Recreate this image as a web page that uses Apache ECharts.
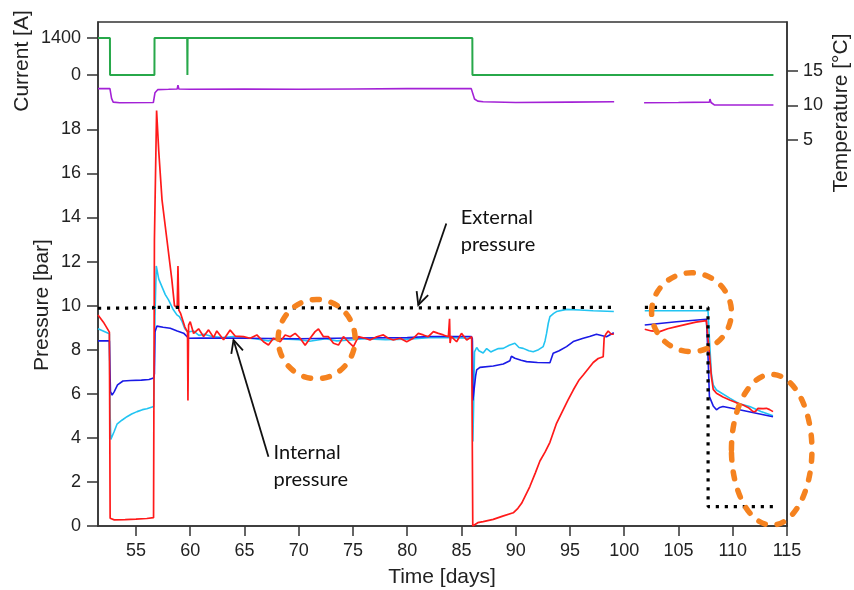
<!DOCTYPE html>
<html><head><meta charset="utf-8">
<script src="https://cdn.jsdelivr.net/npm/echarts@6/dist/echarts.min.js"></script>
<style>html,body{margin:0;padding:0;background:#fff}#c{width:854px;height:590px}</style>
</head><body><div id="c"></div>
<script>
// ---------- data ----------
const xTicks = [55, 60, 65, 70, 75, 80, 85, 90, 95, 100, 105, 110, 115];
const pressureTicks = [0, 2, 4, 6, 8, 10, 12, 14, 16, 18];
const currentTicks = [0, 1400];
const temperatureTicks = [5, 10, 15];

const redPressure = [
  [51.5, 9.57], [52.0, 9.25], [52.55, 8.8], [52.62, 0.35], [53.0, 0.28], [54.0, 0.29], [55.0, 0.31], [56.0, 0.34],
  [56.62, 0.38], [56.7, 13.0], [56.9, 18.85], [57.1, 17.0], [57.4, 14.8], [57.85, 13.0], [58.3, 11.2], [58.55, 10.0],
  [58.8, 9.9], [58.87, 11.8], [58.95, 9.8], [59.1, 9.66], [59.5, 9.04], [59.75, 8.8], [59.79, 5.7], [59.85, 9.12],
  [60.0, 9.27], [60.31, 8.74], [60.77, 8.95], [61.23, 8.6], [61.69, 8.9], [62.15, 8.55], [62.45, 8.85], [63.07, 8.45],
  [63.68, 8.89], [64.14, 8.62], [64.91, 8.59], [65.52, 8.52], [66.14, 8.67], [66.75, 8.36], [67.21, 8.21], [67.67, 8.52],
  [68.29, 8.36], [68.75, 8.67], [69.21, 8.59], [69.67, 8.74], [70.13, 8.52], [70.59, 8.2], [71.05, 8.52], [71.51, 8.82],
  [71.82, 8.94], [72.28, 8.59], [72.74, 8.59], [73.2, 8.29], [73.66, 8.21], [74.12, 8.59], [74.58, 8.36], [75.04, 8.14],
  [75.5, 8.59], [76.11, 8.52], [76.57, 8.44], [77.19, 8.59], [77.8, 8.67], [78.26, 8.52], [78.72, 8.44], [79.34, 8.52],
  [79.95, 8.36], [80.56, 8.52], [81.02, 8.74], [81.48, 8.67], [81.94, 8.59], [82.41, 8.82], [82.87, 8.74], [83.33, 8.67],
  [83.79, 8.59], [83.85, 8.6], [83.9, 9.4], [83.95, 8.3], [84.05, 8.6], [84.55, 8.36], [85.0, 8.74], [85.48, 8.44],
  [85.94, 8.59], [86.02, 8.55], [86.04, 0.0], [86.09, 0.05], [86.5, 0.15], [87.0, 0.2], [87.93, 0.3], [88.8, 0.45],
  [89.77, 0.6], [90.2, 0.8], [90.54, 1.03], [91.3, 1.79], [91.8, 2.4], [92.23, 2.95], [92.7, 3.35], [93.15, 3.8],
  [93.76, 4.66], [94.37, 5.27], [94.8, 5.7], [95.3, 6.17], [95.8, 6.6], [96.22, 6.85], [96.7, 7.15], [97.14, 7.42],
  [97.6, 7.6], [98.06, 7.68], [98.15, 8.55], [98.3, 8.7], [98.52, 8.85], [98.8, 8.7], [99.04, 8.7], [100.5, null],
  [101.89, 8.93], [102.5, 8.85], [103.27, 8.82], [104.0, 8.95], [104.81, 9.05], [105.7, 9.15], [106.6, 9.25], [107.57, 9.32],
  [107.72, 9.3], [107.82, 7.99], [108.03, 6.78], [108.2, 6.2], [108.5, 6.02], [109.1, 5.85], [109.72, 5.72], [110.3, 5.6],
  [110.95, 5.49], [111.5, 5.35], [111.87, 5.19], [112.1, 5.2], [112.33, 5.34], [112.8, 5.33], [113.1, 5.34], [113.4, 5.28],
  [113.71, 5.19]
];

const cyanPressure = [
  [51.5, 8.95], [52.55, 8.72], [52.62, 5.0], [52.68, 3.93], [53.0, 4.3], [53.25, 4.62], [53.7, 4.8], [54.17, 4.96],
  [54.6, 5.08], [55.1, 5.19], [55.6, 5.28], [56.0, 5.32], [56.63, 5.42], [56.7, 5.5], [56.75, 9.5], [56.87, 11.8],
  [57.1, 11.2], [57.39, 10.86], [57.7, 10.5], [58.0, 10.26], [58.4, 9.85], [58.77, 9.58], [59.0, 9.5], [59.23, 9.3],
  [59.5, 8.95], [59.8, 8.8], [60.3, 8.85], [60.8, 8.65], [61.3, 8.7], [62.0, 8.6], [63.0, 8.55], [64.0, 8.6],
  [66.0, 8.5], [67.2, 8.4], [68.0, 8.5], [70.0, 8.45], [71.0, 8.38], [72.5, 8.5], [73.5, 8.4], [75.0, 8.45],
  [76.0, 8.5], [78.0, 8.45], [80.0, 8.48], [82.0, 8.55], [84.0, 8.55], [85.9, 8.52], [86.0, 8.4], [86.05, 3.83],
  [86.12, 5.5], [86.2, 7.9], [86.4, 8.1], [86.6, 7.95], [87.0, 7.85], [87.32, 8.05], [87.7, 7.9], [87.93, 7.95],
  [88.4, 8.05], [88.85, 8.06], [89.4, 8.2], [89.92, 8.29], [90.3, 8.1], [90.69, 8.06], [91.2, 7.95], [91.61, 7.91],
  [92.1, 8.0], [92.53, 8.14], [92.7, 8.4], [92.84, 8.74], [93.0, 9.2], [93.15, 9.5], [93.5, 9.65], [93.76, 9.73],
  [94.68, 9.83], [95.91, 9.8], [97.14, 9.77], [99.04, 9.73], [100.5, null], [101.89, 9.77], [107.72, 9.77], [107.85, 8.5],
  [108.03, 6.93], [108.2, 6.4], [108.5, 6.17], [109.72, 5.8], [110.6, 5.55], [111.56, 5.42], [112.6, 5.2], [113.71, 5.0]
];

const bluePressure = [
  [51.5, 8.4], [52.55, 8.4], [52.6, 7.1], [52.65, 6.1], [52.8, 5.94], [53.0, 6.1], [53.3, 6.4], [53.8, 6.58],
  [54.5, 6.6], [55.5, 6.62], [56.2, 6.65], [56.62, 6.72], [56.7, 6.9], [56.75, 8.8], [56.93, 9.07], [57.5, 9.02],
  [58.16, 8.97], [58.8, 8.85], [59.39, 8.75], [59.85, 8.52], [61.0, 8.53], [65.0, 8.52], [70.0, 8.5], [75.0, 8.53],
  [80.0, 8.55], [82.0, 8.6], [85.9, 8.6], [86.0, 8.5], [86.05, 5.7], [86.15, 5.75], [86.3, 6.8], [86.4, 7.08],
  [86.7, 7.2], [87.93, 7.26], [88.85, 7.35], [89.46, 7.5], [89.6, 7.7], [89.92, 7.61], [90.5, 7.52], [91.0, 7.46],
  [92.0, 7.42], [93.15, 7.41], [93.45, 7.84], [94.0, 7.95], [94.68, 8.14], [95.3, 8.37], [96.22, 8.52], [96.8, 8.6],
  [97.44, 8.7], [98.36, 8.59], [99.04, 8.77], [100.5, null], [101.89, 9.12], [104.81, 9.27], [107.57, 9.38], [107.7, 8.0],
  [107.85, 5.87], [108.2, 5.45], [108.5, 5.27], [108.8, 5.38], [109.1, 5.42], [110.95, 5.24], [113.71, 4.96]
];

const externalPressure = [
  [51.5, 9.88], [56.6, 9.9], [56.8, 10.05], [57.0, 9.92], [70.0, 9.9], [86.0, 9.9], [99.1, 9.92], [100.5, null],
  [101.9, 9.92], [107.72, 9.92], [107.73, 0.88], [113.7, 0.88]
];

const current = [
  [51.5, 1400], [52.6, 1400], [52.61, 0], [56.7, 0], [56.71, 1400], [59.72, 1400], [59.74, 0], [59.76, 1400],
  [86.0, 1400], [86.01, 0], [113.75, 0]
];

const temperature = [
  [51.5, 12.4], [52.6, 12.4], [52.75, 11.0], [52.9, 10.45], [53.5, 10.37], [56.6, 10.4], [56.75, 11.8], [57.0, 12.25],
  [58.0, 12.3], [58.8, 12.35], [58.87, 12.9], [58.95, 12.35], [60.0, 12.3], [65.0, 12.35], [70.0, 12.3], [75.0, 12.35],
  [80.0, 12.4], [85.9, 12.4], [86.0, 12.2], [86.2, 10.9], [86.5, 10.6], [87.0, 10.5], [90.0, 10.4], [95.0, 10.45],
  [99.07, 10.5], [100.5, null], [101.83, 10.37], [105.0, 10.4], [107.85, 10.45], [107.9, 10.9], [108.0, 10.4], [108.3, 10.05],
  [113.75, 10.04]
];

// ---------- annotation anchors (data coordinates) ----------
const highlightEllipses = [
  { cx: 71.65, cy: 8.48, rx: 3.55, ry: 1.8 },
  { cx: 106.2, cy: 9.70, rx: 3.68, ry: 1.79 },
  { cx: 113.59, cy: 3.46, rx: 3.71, ry: 3.42 }
];
const labelNotes = [
  { text: 'External\npressure', x: 84.93, y: 14.6, from: [83.6, 13.73], to: [81.02, 10.03] },
  { text: 'Internal\npressure', x: 67.67, y: 3.95, from: [67.21, 3.14], to: [63.99, 8.44] }
];

// ---------- chart ----------
const chart = echarts.init(document.getElementById('c'), null, { renderer: 'canvas' });
const tickFont = { fontFamily: 'Liberation Sans', fontSize: 18, color: '#222' };
const axisColor = '#333';
const plain = v => String(v);

const option = {
  animation: false,
  backgroundColor: '#fff',
  grid: { left: 98, right: 67, top: 22, bottom: 64, show: true, borderColor: axisColor, borderWidth: 1.5 },
  xAxis: {
    type: 'value', min: 51.5, max: 115,
    axisLine: { lineStyle: { color: axisColor, width: 1.5 } },
    axisTick: { customValues: xTicks, length: 10, lineStyle: { color: axisColor, width: 1.5 } },
    axisLabel: Object.assign({ customValues: xTicks, margin: 16, formatter: plain }, tickFont),
    splitLine: { show: false }
  },
  yAxis: [
    {
      type: 'value', min: 0, max: 22.87, position: 'left',
      axisLine: { show: true, lineStyle: { color: axisColor, width: 1.5 } },
      axisTick: { show: true, customValues: pressureTicks, length: 11, lineStyle: { color: axisColor, width: 1.5 } },
      axisLabel: Object.assign({ customValues: pressureTicks, margin: 17, formatter: plain }, tickFont),
      splitLine: { show: false }
    },
    {
      type: 'value', min: -17065, max: 2005, position: 'left',
      axisLine: { show: false },
      axisTick: { show: true, customValues: currentTicks, length: 11, lineStyle: { color: axisColor, width: 1.5 } },
      axisLabel: Object.assign({ customValues: currentTicks, margin: 17, formatter: plain }, tickFont),
      splitLine: { show: false }
    },
    {
      type: 'value', min: -50.62, max: 22.0, position: 'right',
      axisLine: { show: true, lineStyle: { color: axisColor, width: 1.5 } },
      axisTick: { show: true, customValues: temperatureTicks, length: 11, lineStyle: { color: axisColor, width: 1.5 } },
      axisLabel: Object.assign({ customValues: temperatureTicks, margin: 16, formatter: plain }, tickFont),
      splitLine: { show: false }
    }
  ],
  series: [
    { name: 'Current', type: 'line', yAxisIndex: 1, data: current, showSymbol: false, symbol: 'none',
      lineStyle: { color: '#27a84a', width: 2 } },
    { name: 'Temperature', type: 'line', yAxisIndex: 2, data: temperature, showSymbol: false, symbol: 'none',
      lineStyle: { color: '#a321d6', width: 1.6 } },
    { name: 'Cyan', type: 'line', yAxisIndex: 0, data: cyanPressure, showSymbol: false, symbol: 'none',
      lineStyle: { color: '#22c4f2', width: 1.6 } },
    { name: 'Blue', type: 'line', yAxisIndex: 0, data: bluePressure, showSymbol: false, symbol: 'none',
      lineStyle: { color: '#1a1ae6', width: 1.6 } },
    { name: 'Red', type: 'line', yAxisIndex: 0, data: redPressure, showSymbol: false, symbol: 'none',
      lineStyle: { color: '#ff1a1a', width: 1.7 } },
    { name: 'External', type: 'line', yAxisIndex: 0, data: externalPressure, showSymbol: false, symbol: 'none',
      lineStyle: { color: '#000', width: 3.2, type: [3.2, 5.8] } }
  ]
};
chart.setOption(option);

// ---------- annotations positioned through the axes ----------
const toPx = (x, y) => chart.convertToPixel({ xAxisIndex: 0, yAxisIndex: 0 }, [x, y]);
const graphics = [];
const orange = '#f5821f';
highlightEllipses.forEach(e => {
  const c = toPx(e.cx, e.cy);
  const r = toPx(e.cx + e.rx, e.cy - e.ry);
  graphics.push({
    type: 'ellipse', z: 100,
    shape: { cx: c[0], cy: c[1], rx: Math.abs(r[0] - c[0]), ry: Math.abs(r[1] - c[1]) },
    style: { fill: null, stroke: orange, lineWidth: 5.5, lineDash: [7, 12], lineCap: 'round' }
  });
});
labelNotes.forEach(n => {
  const p = toPx(n.x, n.y);
  graphics.push({
    type: 'text', z: 100, x: p[0], y: p[1],
    style: { text: n.text, fontFamily: 'Lato', fontSize: 20, lineHeight: 27, fill: '#111', textAlign: 'left', textVerticalAlign: 'top' }
  });
  const a = toPx(n.from[0], n.from[1]);
  const b = toPx(n.to[0], n.to[1]);
  const ang = Math.atan2(b[1] - a[1], b[0] - a[0]);
  const L = 14, spread = 0.45;
  const h1 = [b[0] - L * Math.cos(ang - spread), b[1] - L * Math.sin(ang - spread)];
  const h2 = [b[0] - L * Math.cos(ang + spread), b[1] - L * Math.sin(ang + spread)];
  graphics.push({ type: 'line', z: 100, shape: { x1: a[0], y1: a[1], x2: b[0], y2: b[1] }, style: { stroke: '#111', lineWidth: 1.8 } });
  graphics.push({ type: 'polyline', z: 100, shape: { points: [h1, b, h2] }, style: { stroke: '#111', lineWidth: 1.8, fill: null } });
});
// axis titles
graphics.push({ type: 'text', z: 100, x: 22, y: 61, rotation: Math.PI / 2,
  style: { text: 'Current [A]', fontFamily: 'Liberation Sans', fontSize: 21, fill: '#222', textAlign: 'center', textVerticalAlign: 'middle' } });
graphics.push({ type: 'text', z: 100, x: 42.5, y: 305, rotation: Math.PI / 2,
  style: { text: 'Pressure [bar]', fontFamily: 'Liberation Sans', fontSize: 21, fill: '#222', textAlign: 'center', textVerticalAlign: 'middle' } });
graphics.push({ type: 'text', z: 100, x: 841, y: 113, rotation: Math.PI / 2,
  style: { text: 'Temperature [°C]', fontFamily: 'Liberation Sans', fontSize: 21, fill: '#222', textAlign: 'center', textVerticalAlign: 'middle' } });
graphics.push({ type: 'text', z: 100, x: 442, y: 577,
  style: { text: 'Time [days]', fontFamily: 'Liberation Sans', fontSize: 21, fill: '#222', textAlign: 'center', textVerticalAlign: 'middle' } });
chart.setOption({ graphic: graphics });
</script></body></html>
